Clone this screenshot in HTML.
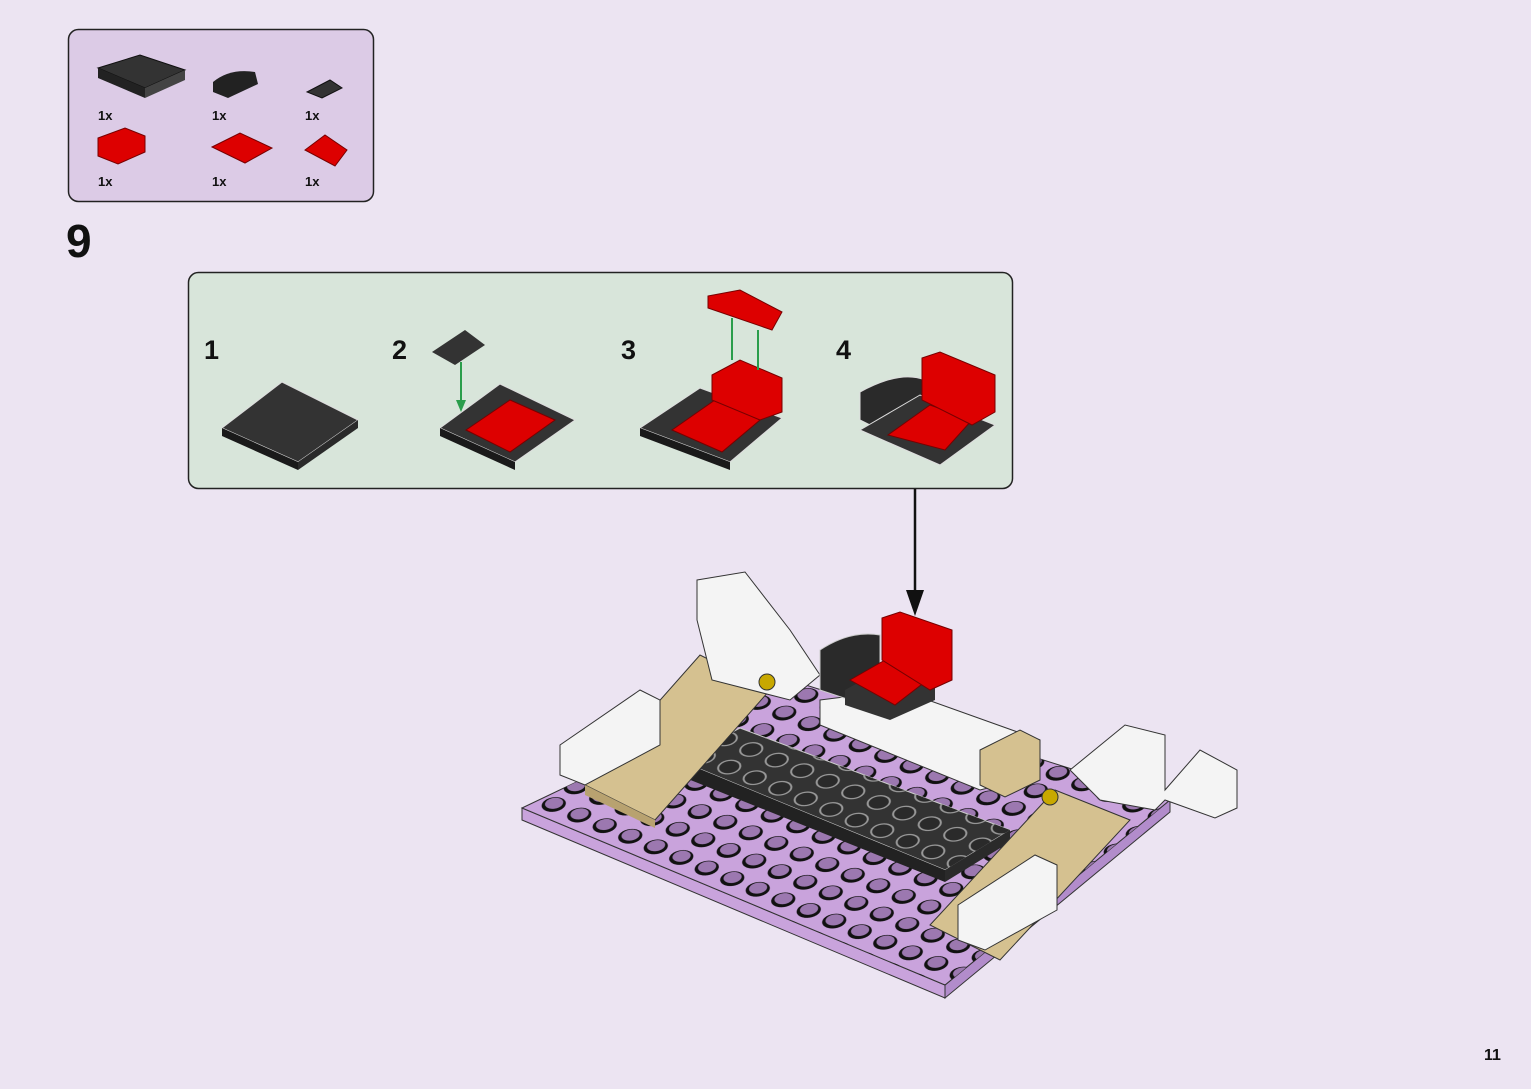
<!DOCTYPE html>
<html><head><meta charset="utf-8"><style>
html,body{margin:0;padding:0;background:#ece4f2;}
svg{display:block;font-family:"Liberation Sans",sans-serif;}
</style></head><body>
<svg width="1531" height="1089" viewBox="0 0 1531 1089" xmlns="http://www.w3.org/2000/svg">
<defs>
<pattern id="stud" patternUnits="userSpaceOnUse" width="1" height="1" patternTransform="matrix(25.5 10.6 22 -17.6 530 808)">
<ellipse cx="0.5" cy="0.5" rx="0.36" ry="0.36" fill="#111"/>
<ellipse cx="0.47" cy="0.55" rx="0.27" ry="0.27" fill="#9c78b0"/>
</pattern>
<pattern id="bstud" patternUnits="userSpaceOnUse" width="1" height="1" patternTransform="matrix(25.5 10.6 22 -17.6 680 760)">
<ellipse cx="0.5" cy="0.5" rx="0.33" ry="0.33" fill="#2a2a2a" stroke="#999" stroke-width="0.06"/>
</pattern>
<clipPath id="pc"><polygon points="522,808 790,680 1170,800 945,985"/></clipPath>
<clipPath id="bc"><polygon points="678,760 740,728 1010,830 945,870"/></clipPath>
</defs>
<rect width="1531" height="1089" fill="#ece4f2"/>

<!-- parts box -->
<rect x="68.5" y="29.5" width="305" height="172" rx="10" fill="#dccbe6" stroke="#222" stroke-width="1.5"/>
<polygon points="98,68 140,55 185,70 145,88" fill="#333" stroke="#111"/>
<polygon points="98,68 145,88 145,98 98,78" fill="#222"/>
<polygon points="145,88 185,70 185,80 145,98" fill="#444"/>
<path d="M213,82 Q230,68 255,72 L258,84 L228,98 L213,92Z" fill="#222"/>
<path d="M307,92 L330,80 L342,88 L322,98Z" fill="#333" stroke="#111"/>
<polygon points="98,138 125,128 145,136 145,152 118,164 98,156" fill="#d00" stroke="#700"/>
<polygon points="212,147 240,133 272,148 245,163" fill="#d00" stroke="#700"/>
<polygon points="305,150 325,135 347,150 335,166" fill="#d00" stroke="#700"/>
<g font-size="13" font-weight="bold" fill="#111">
<text x="98" y="120">1x</text><text x="212" y="120">1x</text><text x="305" y="120">1x</text>
<text x="98" y="186">1x</text><text x="212" y="186">1x</text><text x="305" y="186">1x</text>
</g>
<text x="66" y="257" font-size="46" font-weight="bold" fill="#111">9</text>

<!-- sub-step box -->
<rect x="188.5" y="272.5" width="824" height="216" rx="10" fill="#d8e5da" stroke="#222" stroke-width="1.5"/>
<g font-size="27" font-weight="bold" fill="#111">
<text x="204" y="359">1</text><text x="392" y="359">2</text><text x="621" y="359">3</text><text x="836" y="359">4</text>
</g>
<polygon points="222,428 282,382 358,420 298,462" fill="#333" stroke="#ddd"/>
<polygon points="222,428 298,462 298,470 222,436" fill="#1a1a1a"/>
<polygon points="298,462 358,420 358,428 298,470" fill="#2a2a2a"/>
<polygon points="440,428 500,384 575,420 515,462" fill="#333" stroke="#ddd"/>
<polygon points="440,428 515,462 515,470 440,436" fill="#1a1a1a"/>
<polygon points="466,430 510,400 555,420 510,452" fill="#d00" stroke="#700"/>
<path d="M432,352 L465,330 L485,345 L455,365Z" fill="#333"/>
<line x1="461" y1="362" x2="461" y2="405" stroke="#2a9d4b" stroke-width="2"/>
<polygon points="456,400 466,400 461,412" fill="#2a9d4b"/>
<polygon points="640,428 700,388 782,418 730,462" fill="#333" stroke="#ddd"/>
<polygon points="640,428 730,462 730,470 640,436" fill="#1a1a1a"/>
<polygon points="672,430 715,400 760,420 722,452" fill="#d00" stroke="#700"/>
<polygon points="712,375 740,360 782,378 782,412 760,420 712,400" fill="#d00" stroke="#700"/>
<polygon points="708,296 740,290 782,312 772,330 708,308" fill="#d00" stroke="#700"/>
<line x1="732" y1="318" x2="732" y2="360" stroke="#2a9d4b" stroke-width="2"/>
<line x1="758" y1="330" x2="758" y2="370" stroke="#2a9d4b" stroke-width="2"/>
<path d="M860,392 Q900,370 925,380 L925,410 L880,430 L860,420Z" fill="#2a2a2a" stroke="#ddd"/>
<polygon points="860,430 920,395 995,425 940,465" fill="#333" stroke="#ddd"/>
<polygon points="888,435 930,405 972,420 945,450" fill="#d00" stroke="#700"/>
<polygon points="922,358 940,352 995,375 995,412 972,425 922,400" fill="#d00" stroke="#700"/>
<line x1="915" y1="489" x2="915" y2="595" stroke="#111" stroke-width="2.5"/>
<polygon points="906,590 924,590 915,616" fill="#111"/>

<!-- main model -->
<polygon points="522,808 945,985 945,998 522,820" fill="#c9a3dc" stroke="#333"/>
<polygon points="945,985 1170,800 1170,812 945,998" fill="#b28ccb" stroke="#333"/>
<polygon points="522,808 790,680 1170,800 945,985" fill="#c9a3dc" stroke="#333"/>
<rect x="500" y="660" width="700" height="340" fill="url(#stud)" clip-path="url(#pc)"/>
<polygon points="678,760 740,728 1010,830 945,870" fill="#333" stroke="#ccc"/>
<rect x="670" y="720" width="350" height="160" fill="url(#bstud)" clip-path="url(#bc)"/>
<polygon points="678,760 945,870 945,882 678,775" fill="#222"/>
<polygon points="945,870 1010,830 1010,842 945,882" fill="#2a2a2a"/>
<polygon points="585,785 700,655 770,690 655,820" fill="#d5c190" stroke="#333"/>
<polygon points="585,785 655,820 655,828 585,795" fill="#b8a270"/>
<polygon points="560,745 640,690 660,700 660,745 585,785 560,775" fill="#f4f4f4" stroke="#333"/>
<polygon points="697,580 745,572 790,630 820,675 790,700 712,680 697,620" fill="#f4f4f4" stroke="#333"/>
<circle cx="767" cy="682" r="8" fill="#c8a800" stroke="#333"/>
<polygon points="820,700 900,690 1040,740 1040,775 980,790 820,725" fill="#f4f4f4" stroke="#333"/>
<polygon points="980,750 1020,730 1040,740 1040,780 1005,797 980,785" fill="#d5c190" stroke="#333"/>
<path d="M820,650 Q850,630 880,635 L880,680 L850,700 L820,690Z" fill="#2a2a2a" stroke="#ccc"/>
<polygon points="845,690 890,665 935,680 935,700 890,720 845,705" fill="#333"/>
<polygon points="850,680 885,660 930,678 895,705" fill="#d00" stroke="#700"/>
<polygon points="882,618 900,612 952,630 952,680 930,690 882,660" fill="#d00" stroke="#700"/>
<polygon points="930,925 1055,790 1130,820 1000,960" fill="#d5c190" stroke="#333"/>
<circle cx="1050" cy="797" r="8" fill="#c8a800" stroke="#333"/>
<polygon points="958,905 1035,855 1057,865 1057,910 985,950 958,940" fill="#f4f4f4" stroke="#333"/>
<polygon points="1070,770 1125,725 1165,735 1165,790 1200,750 1237,770 1237,808 1215,818 1165,800 1155,810 1100,800" fill="#f4f4f4" stroke="#333"/>

<text x="1484" y="1060" font-size="16" font-weight="bold" fill="#111">11</text>
</svg>
</body></html>
